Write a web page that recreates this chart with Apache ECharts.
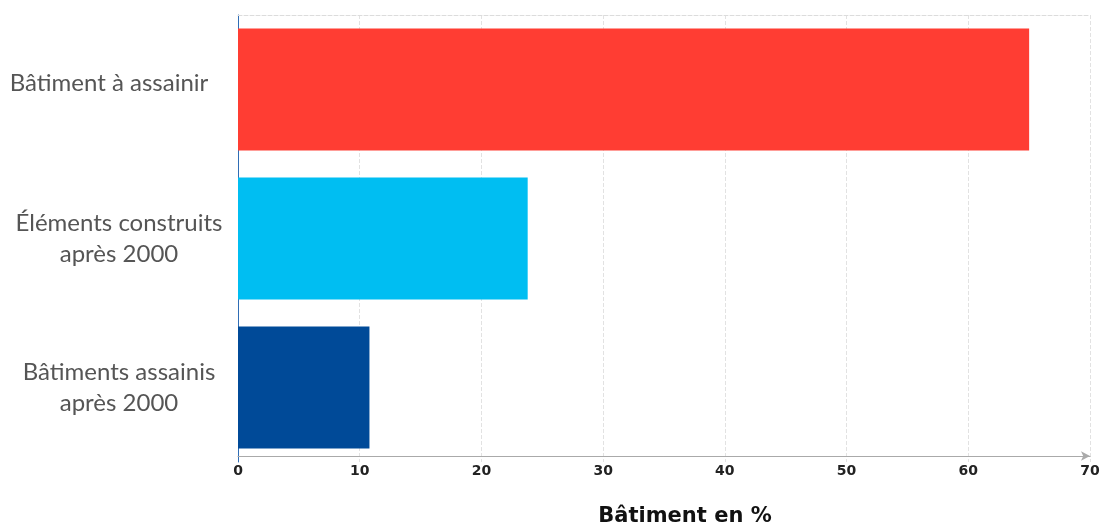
<!DOCTYPE html>
<html><head><meta charset="utf-8">
<script src="https://cdn.jsdelivr.net/npm/echarts@6/dist/echarts.min.js"></script>
<style>html,body{margin:0;padding:0;background:#fff}#c{width:1103px;height:527px}</style>
</head><body><div id="c"></div>
<script>
const categories = ["Bâtiment à assainir", "Éléments construits\naprès 2000", "Bâtiments assainis\naprès 2000"];
const values = [65.0, 23.8, 10.8];
const barColors = ["#ff3d33", "#00bef2", "#004a98"];
const xTicks = [0, 10, 20, 30, 40, 50, 60, 70];
const axisTitle = "Bâtiment en %";

const chart = echarts.init(document.getElementById('c'), null, {renderer: 'canvas'});
chart.setOption({
  animation: false,
  grid: {left: 238, right: 13, top: 15, bottom: 65, containLabel: false, outerBoundsMode: 'none'},
  xAxis: [{
    type: 'value', min: xTicks[0], max: xTicks[xTicks.length - 1], interval: 10,
    position: 'bottom', offset: -6,
    axisLine: {show: true, lineStyle: {color: '#aaa', width: 1}, symbol: ['none', 'arrow'], symbolSize: [7, 9]},
    axisTick: {show: false},
    axisLabel: {color: '#222', fontFamily: 'DejaVu Sans', fontWeight: 'bold', fontSize: 14, margin: 8},
    splitLine: {show: true, lineStyle: {color: '#e2e2e2', type: 'dashed', width: 1}},
    name: axisTitle, nameLocation: 'middle', nameGap: 50,
    nameTextStyle: {color: '#111', fontFamily: 'DejaVu Sans', fontWeight: 'bold', fontSize: 21, padding: [0, 0, 0, 42]}
  }, {
    type: 'value', min: xTicks[0], max: xTicks[xTicks.length - 1], interval: 10,
    position: 'top',
    axisLine: {show: true, lineStyle: {color: '#dcdcdc', type: 'dashed', width: 1}},
    axisTick: {show: false}, axisLabel: {show: false}, splitLine: {show: false}
  }],
  yAxis: {
    type: 'category', inverse: true,
    data: categories.map((c, i) => i === 0 ? {value: c, textStyle: {align: 'center', verticalAlign: 'bottom', lineHeight: 12, padding: [0, 20, 0, 0]}} : c),
    axisLine: {show: true, lineStyle: {color: '#2f6db5', width: 1}},
    axisTick: {show: false},
    axisLabel: {color: '#555', fontFamily: 'Lato', fontSize: 24, lineHeight: 31, align: 'center', margin: 119}
  },
  series: [{
    type: 'bar', xAxisIndex: 0, barCategoryGap: '18%',
    data: values.map((v, i) => ({value: v, itemStyle: {color: barColors[i]}}))
  }]
});
</script></body></html>
